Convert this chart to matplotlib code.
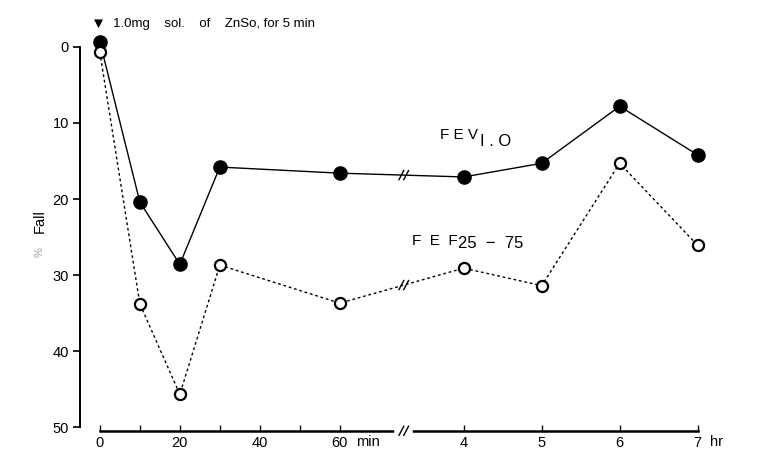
import numpy as np
import matplotlib.pyplot as plt

plt.rcParams['font.family'] = ['Liberation Sans', 'DejaVu Sans']

# 測定時刻 (前半は min, 後半は hr)
t_min = [0, 10, 20, 30, 60]
t_hr = [4, 5, 6, 7]
# % Fall
fev = [-0.7, 20.4, 28.6, 15.8, 16.6, 17.1, 15.3, 7.8, 14.2]
fef = [0.7, 33.8, 45.7, 28.7, 33.7, 29.1, 31.4, 15.3, 26.1]

min_ticks = [0, 20, 40, 60]
min_minor = [10, 30, 50]
hr_ticks = [4, 5, 6, 7]
y_ticks = [0, 10, 20, 30, 40, 50]


# 時間軸: 60 min の後で軸を切って hr 目盛りに切り替える
def hr_pos(h):
    return 91 + (np.asarray(h, dtype=float) - 4) * 19.5


x = np.concatenate([t_min, hr_pos(t_hr)])
brk = 76
y_axis = 50.5

fig = plt.figure(figsize=(7.68, 4.51), dpi=100)
ax = fig.add_axes([0.104, 0.0195, 0.833, 0.9437])
ax.set_xlim(-5, 155)
ax.set_ylim(52, -4)

ax.plot(x, fev, color="black", lw=1.0, marker="o", ms=9.5,
        mfc="black", mec="black", zorder=4)
ax.plot(x, fef, color="black", lw=1.0, ls=(0, (2, 2)), marker="o", ms=8,
        mfc="white", mec="black", mew=1.6, zorder=5)


# 軸の切れ目 "//"
def slash(xc, yc, white=False):
    if white:
        ax.plot([xc - 1.6, xc + 1.6], [yc, yc], color="white", lw=4,
                clip_on=False, zorder=6)
    for dx in (-0.6, 0.6):
        ax.plot([xc + dx - 0.6, xc + dx + 0.6], [yc + 0.6, yc - 0.6],
                color="black", lw=1.0, clip_on=False, zorder=7)


slash(brk, np.interp(brk, x, fev))
slash(brk, np.interp(brk, x, fef))
slash(brk, y_axis, white=True)

# 軸
for s in ("top", "right"):
    ax.spines[s].set_visible(False)
ax.spines["left"].set_bounds(0, 50)
ax.spines["left"].set_linewidth(1.4)
ax.spines["bottom"].set_position(("data", y_axis))
ax.spines["bottom"].set_bounds(0, hr_pos(7))
ax.spines["bottom"].set_linewidth(1.8)

ax.set_yticks(y_ticks)
ax.set_yticklabels([str(v) for v in y_ticks], fontsize=10.5)
ax.tick_params(axis="y", direction="out", length=5, width=1.2, pad=3)

ax.set_xticks(list(min_ticks) + list(hr_pos(hr_ticks)))
ax.set_xticklabels([str(v) for v in min_ticks] + [str(v) for v in hr_ticks],
                   fontsize=10.5)
ax.set_xticks(min_minor, minor=True)
ax.tick_params(axis="x", which="both", direction="in", length=4, width=1.0, pad=4)

ax.text(64.0, 52.0, "min", fontsize=10.5, va="center", ha="left")
ax.text(hr_pos(7) + 3.0, 52.0, "hr", fontsize=10.5, va="center", ha="left")

# 系列名
ax.text(85.0, 11.6, "F E V", fontsize=11, va="center", ha="left")
ax.text(95.0, 12.5, "I . O", fontsize=12, va="center", ha="left")
ax.text(78.0, 25.5, "F  E  F", fontsize=11, va="center", ha="left")
ax.text(89.5, 25.9, "25  \u2212  75", fontsize=12, va="center", ha="left")

# 負荷の注記
ax.text(-0.3, -3.0, "\u25bc", fontsize=11, va="center", ha="center")
ax.text(3.2, -3.0, "1.0mg    sol.    of    ZnSo, for 5 min", fontsize=9.5,
        va="center", ha="left")

fig.text(0.052, 0.51, "Fall", rotation=90, fontsize=10.5,
         va="center", ha="center")
fig.text(0.052, 0.441, "%", rotation=90, fontsize=8, color="#9a9a9a",
         va="center", ha="center")

plt.savefig("out.png", dpi=100)
